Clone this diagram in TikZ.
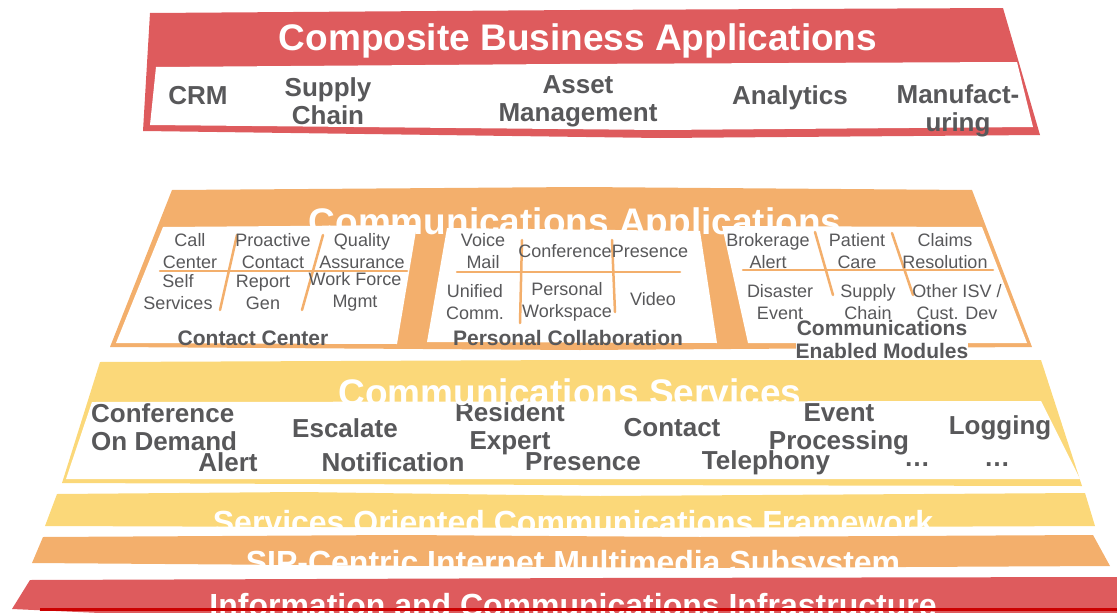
\documentclass[tikz,border=0pt]{standalone}
\usepackage{fontspec}
\setmainfont{Liberation Sans}
\definecolor{bandred}{HTML}{DE5B5D}
\definecolor{bandorange}{HTML}{F3AF6C}
\definecolor{bandyellow}{HTML}{FBD879}
\definecolor{linered}{HTML}{CC0000}
\definecolor{textgray}{HTML}{58585A}
\begin{document}
\begin{tikzpicture}[x=1pt,y=-1pt,
  bigtitle/.style={text=white,font=\bfseries\fontsize{37}{40}\selectfont,anchor=base,inner sep=0pt},
  basetitle/.style={text=white,font=\bfseries\fontsize{32}{34}\selectfont,anchor=base,inner sep=0pt},
  bigitem/.style={text=textgray,font=\bfseries\fontsize{26}{28}\selectfont,align=center,inner sep=0pt},
  smallitem/.style={text=textgray,font=\fontsize{18}{22}\selectfont,align=center,inner sep=0pt},
  boxlabel/.style={text=textgray,font=\bfseries\fontsize{21}{23}\selectfont,align=center,inner sep=0pt},
  gridline/.style={bandorange,line width=2.5pt,line cap=round}]
\useasboundingbox (0,0) rectangle (1117,613);
% composite business applications
\fill[bandred] (150,13) -- (580,10) -- (1003,8) -- (1040,135) -- (660,138) -- (143,131) -- cycle;
\fill[white] (156,67) -- (560,64) -- (1017,62) -- (1033,127) -- (660,130) -- (150,125) -- cycle;
\node[bigtitle] (cba) at (578,50) {Composite Business Applications};
\node[bigitem] (crm) at (198,96) {CRM};
\node[bigitem] (supply) at (328,101) {Supply\\Chain};
\node[bigitem] (asset) at (578,101) {Asset\\Management};
\node[bigitem] (analytics) at (790,98) {Analytics};
\node[bigitem] (manuf) at (958,111) {Manufact-\\uring};
% communications applications
\fill[bandorange] (172,190) -- (580,187) -- (972,190) -- (1032,347) -- (580,350) -- (110,347) -- cycle;
\node[bigtitle] (capps) at (575,234) {Communications Applications};
\fill[white] (163,227) -- (417,225) -- (397,344) -- (116,343) -- cycle;
\fill[white] (447,228) -- (700,231) -- (717,343) -- (427,342) -- cycle;
\fill[white] (722,226) -- (982,227) -- (1027,343) -- (748,343) -- cycle;
\draw[gridline] (160,271) -- (407,271);
\draw[gridline] (237,235) -- (220,310);
\draw[gridline] (323,235) -- (302,310);
\draw[gridline] (457,272) -- (680,272);
\draw[gridline] (522,240) -- (520,323);
\draw[gridline] (612,240) -- (615,312);
\draw[gridline] (743,270) -- (993,270);
\draw[gridline] (815,232) -- (833,295);
\draw[gridline] (892,233) -- (913,295);
\node[smallitem] (call) at (190,251) {Call\\Center};
\node[smallitem] (proactive) at (273,251) {Proactive\\Contact};
\node[smallitem] (quality) at (362,251) {Quality\\Assurance};
\node[smallitem] (self) at (178,292) {Self\\Services};
\node[smallitem] (report) at (263,292) {Report\\Gen};
\node[smallitem] (workforce) at (355,292) {Work Force\\Mgmt};
\node[boxlabel] (contact) at (253,338) {Contact Center};
\node[smallitem] (voice) at (483,251) {Voice\\Mail};
\node[smallitem] (conference) at (565,251) {Conference};
\node[smallitem] (presence) at (650,251) {Presence};
\node[smallitem] (unified) at (475,302) {Unified\\Comm.};
\node[smallitem] (workspace) at (567,302) {Personal\\Workspace};
\node[smallitem] (video) at (653,299) {Video};
\node[boxlabel] (collab) at (568,338) {Personal Collaboration};
\node[smallitem] (brokerage) at (768,251) {Brokerage\\Alert};
\node[smallitem] (patient) at (857,251) {Patient\\Care};
\node[smallitem] (claims) at (945,251) {Claims\\Resolution};
\node[smallitem] (disaster) at (780,302) {Disaster\\Event};
\node[smallitem] (chain) at (868,302) {Supply\\Chain};
\node[smallitem] (isv) at (957,302) {Other ISV /\\Cust. Dev};
\node[boxlabel,fill=white] (modules) at (882,339) {Communications\\Enabled Modules};
% communications services
\fill[bandyellow] (100,362) -- (580,360) -- (1041,360) -- (1082,486) -- (580,485) -- (62,483) -- cycle;
\fill[white] (92,402) -- (1041,401) -- (1080,479) -- (66,479) -- cycle;
\node[bigitem,anchor=west,align=left] (ondemand) at (91,427) {Conference\\On Demand};
\node[bigitem] (escalate) at (345,428) {Escalate};
\node[bigitem] (expert) at (510,429) {Resident\\Expert};
\node[bigitem] (contactsvc) at (672,428) {Contact};
\node[bigitem] (event) at (839,429) {Event\\Processing};
\node[bigitem] (logging) at (1000,428) {Logging};
\node[bigitem] (alert) at (228,462) {Alert};
\node[bigitem] (notification) at (393,462) {Notification};
\node[bigitem] (presencesvc) at (583,462) {Presence};
\node[bigitem] (telephony) at (766,463) {Telephony};
\node[bigitem] (more1) at (917,465) {\ldots};
\node[bigitem] (more2) at (997,465) {\ldots};
\node[bigtitle] (csvc) at (570,405) {Communications Services};
% lower layers
\fill[bandyellow] (57,494) -- (300,492) -- (600,496) -- (1085,493) -- (1095,526) -- (600,528) -- (45,526) -- cycle;
\node[basetitle] (socf) at (573,533) {Services Oriented Communications Framework};
\fill[bandorange] (43,537) -- (400,535) -- (700,537) -- (1093,535) -- (1110,566) -- (700,568) -- (32,563) -- cycle;
\node[basetitle] (sip) at (573,573) {SIP-Centric Internet Multimedia Subsystem};
\fill[bandred] (30,580) -- (600,578) -- (1117,577) -- (1117,613) -- (100,613) -- (12,609) -- cycle;
\node[basetitle] (infra) at (573,616) {Information and Communications Infrastructure};
\draw[linered,line width=3pt] (40,609) -- (1117,609);
\end{tikzpicture}
\end{document}
